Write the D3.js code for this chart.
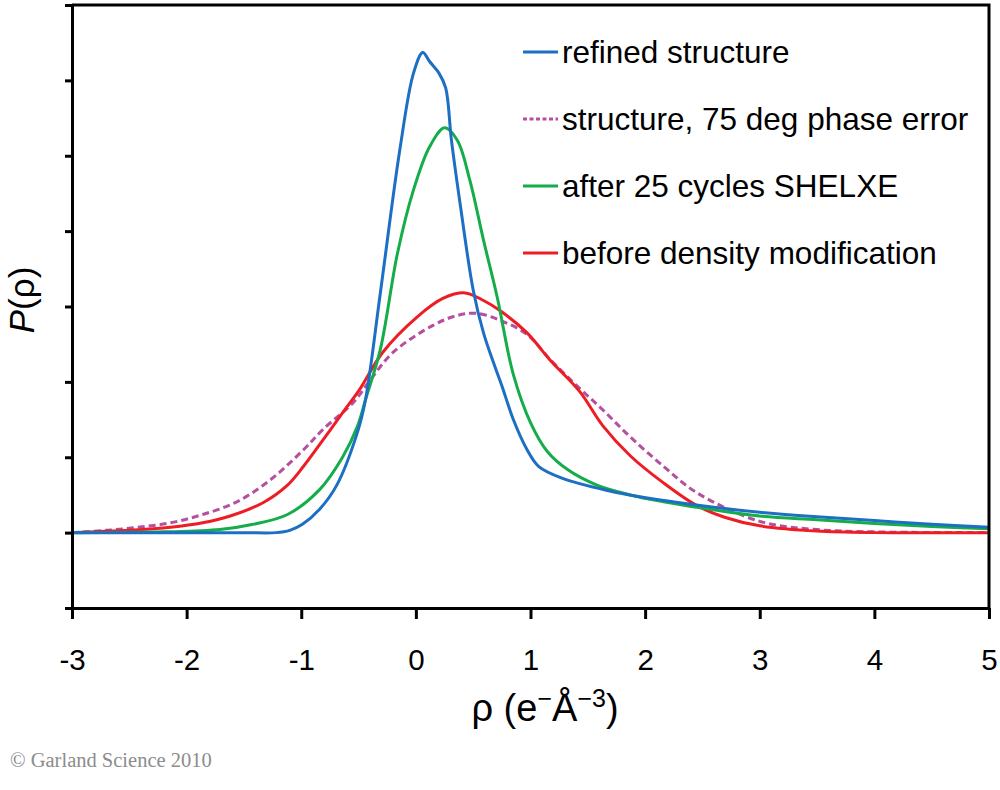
<!DOCTYPE html>
<html>
<head>
<meta charset="utf-8">
<script src="https://cdn.jsdelivr.net/npm/d3@7"></script>
<style>
  body { margin: 0; background: #fff; }
</style>
</head>
<body>
<div id="chart"></div>
<script>
// values: [rho, P(rho)] in tick units
const refined = [
  [-3, 0], [-2, 0], [-1.5, 0], [-1.22, 0], [-1.1, 0.03], [-0.99, 0.11], [-0.84, 0.31],
  [-0.69, 0.63], [-0.51, 1.33], [-0.44, 1.76], [-0.31, 3.18], [-0.14, 5.08],
  [-0.02, 6.1], [0.06, 6.37], [0.12, 6.25], [0.2, 6.1], [0.26, 5.9],
  [0.31, 5.21], [0.39, 4.32], [0.5, 3.22], [0.59, 2.65], [0.69, 2.2],
  [0.75, 1.95], [0.85, 1.5], [0.97, 1.1], [1.07, 0.88], [1.28, 0.72],
  [1.67, 0.56], [2.02, 0.46], [2.48, 0.36], [3.0, 0.27], [3.5, 0.21],
  [4.0, 0.16], [4.5, 0.11], [5, 0.07]
];
const phaseError = [
  [-3, 0], [-2.7, 0.03], [-2.43, 0.07], [-2.14, 0.13], [-1.86, 0.24],
  [-1.56, 0.41], [-1.27, 0.7], [-0.98, 1.1], [-0.81, 1.37], [-0.55, 1.72],
  [-0.4, 2.02], [-0.2, 2.39], [0.15, 2.75], [0.36, 2.88], [0.53, 2.91],
  [0.73, 2.82], [0.97, 2.63], [1.17, 2.3], [1.41, 1.94], [1.63, 1.63],
  [1.87, 1.27], [2.16, 0.88], [2.45, 0.53], [3.0, 0.15], [3.5, 0.04],
  [4, 0.01], [5, 0]
];
const shelxe = [
  [-3, 0], [-2.2, 0.01], [-1.71, 0.04], [-1.42, 0.11], [-1.12, 0.24],
  [-0.84, 0.57], [-0.64, 1.0], [-0.51, 1.41], [-0.44, 1.76], [-0.31, 2.43],
  [-0.16, 3.71], [-0.02, 4.55], [0.12, 5.12], [0.25, 5.37], [0.36, 5.21],
  [0.47, 4.68], [0.59, 3.88], [0.71, 3.12], [0.85, 2.1], [1.0, 1.46],
  [1.145, 1.08], [1.32, 0.84], [1.58, 0.63], [1.87, 0.5], [2.16, 0.41],
  [2.48, 0.33], [3.0, 0.22], [3.5, 0.17], [4.0, 0.12], [4.5, 0.08], [5, 0.05]
];
const beforeDM = [
  [-3, 0], [-2.5, 0.03], [-2.14, 0.07], [-1.86, 0.13], [-1.62, 0.22],
  [-1.33, 0.4], [-1.12, 0.63], [-0.98, 0.88], [-0.81, 1.23], [-0.64, 1.59],
  [-0.49, 1.9], [-0.29, 2.39], [0.01, 2.86], [0.24, 3.11], [0.43, 3.18],
  [0.59, 3.08], [0.73, 2.95], [0.97, 2.65], [1.17, 2.29], [1.43, 1.87],
  [1.63, 1.42], [1.87, 1.02], [2.16, 0.66], [2.45, 0.36], [2.7, 0.2],
  [3.0, 0.09], [3.5, 0.02], [4, 0], [5, 0]
];

const seriesNames = [
  "refined structure",
  "structure, 75 deg phase error",
  "after 25 cycles SHELXE",
  "before density modification"
];
const seriesColors = ["#1c6fc2", "#b5509f", "#14ad4a", "#ee1d25"];
const seriesDash = [null, "7,4", null, null];
const seriesData = [refined, phaseError, shelxe, beforeDM];

const xTicks = [-3, -2, -1, 0, 1, 2, 3, 4, 5];
const yTicks = [-1, 0, 1, 2, 3, 4, 5, 6, 7];

const width = 1000, height = 790;
const plot = { left: 72, right: 989, top: 5, bottom: 608 };
const sans = "'Liberation Sans', Arial, sans-serif";

const svg = d3.select("#chart").append("svg")
  .attr("width", width)
  .attr("height", height)
  .style("font-family", sans);

const x = d3.scaleLinear().domain([-3, 5]).range([plot.left, plot.right]);
const y = d3.scaleLinear().domain([-1, 7]).range([plot.bottom, plot.top]);

// curves
const line = d3.line()
  .x((d) => x(d[0]))
  .y((d) => y(Math.max(0, d[1])))
  .curve(d3.curveCatmullRom.alpha(0.5));

// draw order: phase error, before DM, shelxe, refined on top
[1, 3, 2, 0].forEach((i) => {
  svg.append("path")
    .datum(seriesData[i])
    .attr("d", line)
    .attr("fill", "none")
    .attr("stroke", seriesColors[i])
    .attr("stroke-width", 3)
    .attr("stroke-dasharray", seriesDash[i])
    .attr("stroke-linejoin", "round");
});

// frame
svg.append("path")
  .attr("d", `M${plot.left},${plot.top}H${plot.right}V${plot.bottom}`)
  .attr("fill", "none")
  .attr("stroke", "#000")
  .attr("stroke-width", 3);

const yAxis = svg.append("g")
  .attr("transform", `translate(${plot.left},0)`)
  .call(d3.axisLeft(y).tickValues(yTicks).tickSize(7).tickSizeOuter(0).tickFormat(""));

const xAxis = svg.append("g")
  .attr("transform", `translate(0,${plot.bottom})`)
  .call(d3.axisBottom(x).tickValues(xTicks).tickSize(11).tickSizeOuter(0)
    .tickFormat((d) => String(d)).tickPadding(30));

[yAxis, xAxis].forEach((g) => {
  g.select(".domain").attr("stroke-width", 3).attr("stroke", "#000");
  g.selectAll(".tick line").attr("stroke-width", 3).attr("stroke", "#000");
});
xAxis.selectAll(".tick text")
  .style("font-family", sans)
  .attr("font-size", 29.5)
  .attr("fill", "#000");

// axis titles
const xTitle = svg.append("text")
  .attr("x", 545)
  .attr("y", 721)
  .attr("text-anchor", "middle")
  .attr("font-size", 38);
xTitle.append("tspan").text("ρ (e");
xTitle.append("tspan").attr("dy", -14).attr("font-size", 25).text("−");
xTitle.append("tspan").attr("dy", 14).text("Å");
xTitle.append("tspan").attr("dy", -14).attr("font-size", 25).text("−3");
xTitle.append("tspan").attr("dy", 14).text(")");

const yTitle = svg.append("text")
  .attr("transform", "translate(34,300) rotate(-90)")
  .attr("text-anchor", "middle")
  .attr("font-size", 35);
yTitle.append("tspan").attr("font-style", "italic").text("P");
yTitle.append("tspan").text("(ρ)");

// legend
const legendRows = [52, 119, 186, 253];
const legend = svg.append("g");
seriesNames.forEach((name, i) => {
  legend.append("line")
    .attr("x1", 523).attr("x2", 558)
    .attr("y1", legendRows[i]).attr("y2", legendRows[i])
    .attr("stroke", seriesColors[i])
    .attr("stroke-width", 3)
    .attr("stroke-dasharray", seriesDash[i] ? "4,2.5" : null);
  legend.append("text")
    .attr("x", 562)
    .attr("y", legendRows[i] + 11)
    .attr("font-size", 31.5)
    .attr("fill", "#000")
    .text(name);
});

// credit
svg.append("text")
  .attr("x", 10)
  .attr("y", 767)
  .style("font-family", "'Liberation Serif', 'Times New Roman', serif")
  .attr("font-size", 20.5)
  .attr("fill", "#8c8c8c")
  .text("© Garland Science 2010");
</script>
</body>
</html>
